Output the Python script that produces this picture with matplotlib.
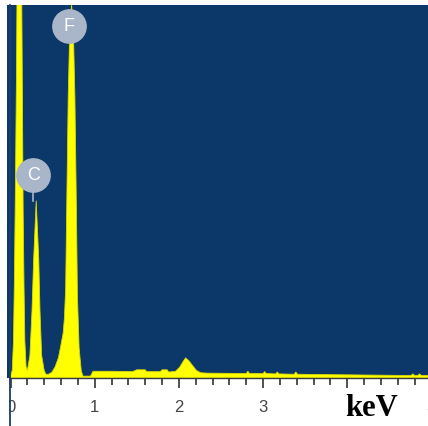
import numpy as np
import matplotlib
matplotlib.use('Agg')
import matplotlib.pyplot as plt
from matplotlib.lines import Line2D
from matplotlib.patches import Rectangle

# EDS spectrum (counts in % of full scale)
energy = [0.00, 0.02, 0.035, 0.045, 0.055, 0.07, 0.085, 0.105, 0.125, 0.14, 0.15, 0.16, 0.17, 0.185,
          0.20, 0.23, 0.255, 0.275, 0.305, 0.335, 0.35, 0.37, 0.40, 0.42,
          0.45, 0.49, 0.53, 0.57, 0.60, 0.625, 0.64, 0.655, 0.67, 0.685, 0.705, 0.725, 0.745, 0.765,
          0.78, 0.795, 0.815, 0.84, 0.86, 0.95, 0.98,
          1.20, 1.45, 1.50, 1.52, 1.60, 1.62, 1.78, 1.80, 1.86, 1.88,
          1.96, 2.01, 2.05, 2.08, 2.12, 2.16, 2.21, 2.26, 2.34,
          2.80, 2.82, 2.84, 3.00, 3.02, 3.04, 3.15, 3.17, 3.19, 3.37, 3.39, 3.41,
          3.80, 4.20, 4.60, 4.76, 4.78, 4.80, 4.84, 4.86, 4.88, 4.96]
counts = [0.5, 2, 10, 25, 45, 80, 130, 170, 130, 80, 45, 25, 10, 3,
          2, 6, 18, 32, 47.5, 32, 18, 6, 2, 1,
          1, 1.5, 3, 5.5, 9, 12, 16, 24, 50, 75, 95, 100, 95, 75,
          50, 22, 8, 2, 0.5, 0.5, 1.8,
          1.8, 1.7, 2.2, 2.2, 2.2, 1.7, 1.7, 2.2, 2.2, 1.6,
          1.8, 2.9, 4.4, 5.4, 4.6, 3.4, 2.0, 1.4, 1.3,
          1.2, 1.8, 1.2, 1.2, 1.7, 1.2, 1.1, 1.6, 1.1, 1.0, 1.6, 1.0,
          0.9, 0.8, 0.7, 0.7, 1.1, 0.7, 0.7, 1.1, 0.7, 0.7]

# element markers: label, energy, circle height, peak top
elem_names = ['F', 'C']
elem_energy = [0.69, 0.27]
elem_circle = [94.5, 54.5]
elem_peak = [94.5, 47.5]

tick_pos = [0, 1, 2, 3, 4]
tick_labels = ['0', '1', '2', '3', '']

W, H = 428, 427
fig = plt.figure(figsize=(W/100, H/100), dpi=100)
fig.patch.set_facecolor('white')
ax = fig.add_axes([7/W, (H-379)/H, (W-7)/W, (379-6)/H])
ax.set_facecolor('#0b3769')

ax.fill_between(energy, counts, 0, color='#ffff00', lw=0.6, edgecolor='#d8d800', zorder=2)
ax.set_xlim(-0.042, 4.96)
ax.set_ylim(0, 100)

for name, e, yc, yp in zip(elem_names, elem_energy, elem_circle, elem_peak):
    ax.plot([e, e], [yp, yc], color='#a9b5c9', lw=1.2, zorder=3)
    ax.plot(e, yc, 'o', ms=24, color='#a9b5c9', mec='#a9b5c9', zorder=4)
    ax.text(e, yc, name, color='white', fontsize=13, ha='center', va='center',
            family='Liberation Sans', zorder=5)

for s in ['top', 'right', 'left']:
    ax.spines[s].set_visible(False)
ax.spines['bottom'].set_color('#3a3a3a')
ax.spines['bottom'].set_linewidth(1.0)
ax.set_yticks([])
ax.set_xticks(tick_pos)
ax.set_xticklabels(tick_labels, family='Liberation Sans', fontsize=12, color='#444444')
ax.set_xticks(np.arange(0, 5.0, 0.2), minor=True)
ax.tick_params(axis='x', which='major', length=7, width=1.2, color='#333333', pad=8)
ax.tick_params(axis='x', which='minor', length=5, width=1.2, color='#333333')

# partially visible "5" at the right edge
ax.text(5.0, -0.055, '5', transform=ax.get_xaxis_transform(), ha='center', va='top',
        family='Liberation Sans', fontsize=12, color='#444444', clip_on=False)

ax.text(4.29, -0.04, 'keV', transform=ax.get_xaxis_transform(), ha='center', va='top',
        family='Liberation Serif', fontweight='bold', fontsize=22, color='black',
        bbox=dict(facecolor='white', edgecolor='none', pad=1), clip_on=False, zorder=6)

# left edge: white strip and vertical line
fig.add_artist(Rectangle((0, 0), 9/W, (H-379)/H, transform=fig.transFigure,
                         facecolor='white', edgecolor='none', zorder=10))
fig.add_artist(Line2D([9.5/W, 9.5/W], [0, (H-6)/H], transform=fig.transFigure,
                      color='#1c3d6e', lw=1.3, zorder=11))

plt.savefig('out.png', dpi=100)
